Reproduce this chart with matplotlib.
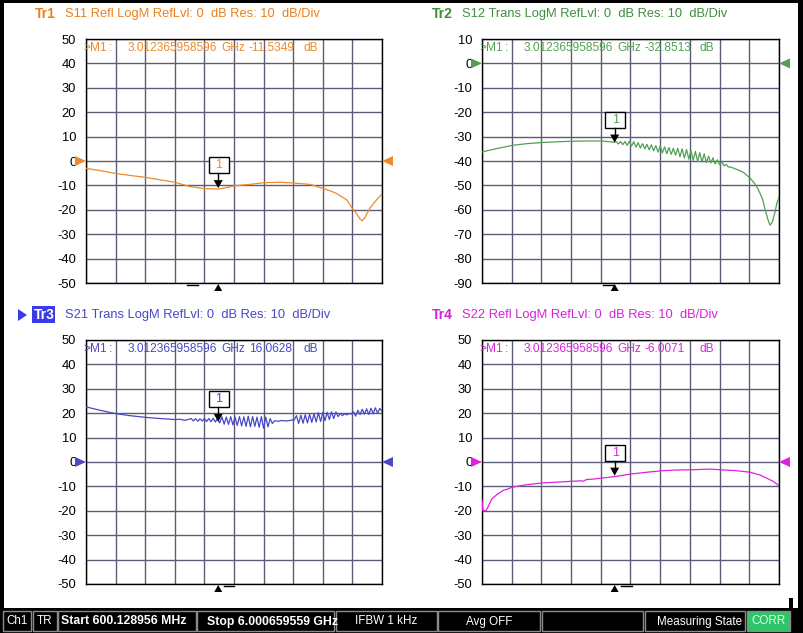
import matplotlib
matplotlib.use('Agg')
import matplotlib.pyplot as plt
from matplotlib.patches import Rectangle, Polygon

plt.rcParams['axes.unicode_minus'] = False
plt.rcParams['font.family'] = ['Liberation Sans', 'DejaVu Sans']

W, H = 804, 633

# ---------------- data ----------------
f_start, f_stop = 0.600128956, 6.000659559   # GHz
marker_f = 3.012365958596

s11_f = [0.60, 0.90, 1.14, 1.40, 1.68, 1.95, 2.22, 2.50, 2.76, 3.01, 3.15, 3.30, 3.59, 3.84, 4.14, 4.38,
         4.69, 4.92, 5.05, 5.17, 5.27, 5.36, 5.46, 5.55, 5.60, 5.64, 5.68, 5.72, 5.78, 5.86, 5.93, 6.00]
s11_db = [-3.0, -4.1, -5.1, -5.9, -6.7, -7.7, -8.7, -10.5, -11.3, -11.5, -11.0, -10.2, -9.6, -8.9, -8.7, -9.0,
          -9.6, -11.2, -12.2, -13.3, -14.7, -16.0, -19.4, -22.0, -23.8, -24.5, -23.5, -21.8, -19.4, -17.0, -15.2, -13.5]

s12_f = [0.60, 0.87, 1.15, 1.41, 1.70, 2.00, 2.23, 2.50, 2.78, 3.00,
         3.04, 3.08, 3.12, 3.16, 3.20, 3.24, 3.28, 3.32, 3.36, 3.40, 3.44, 3.48, 3.52, 3.56, 3.60,
         3.64, 3.68, 3.72, 3.76, 3.80, 3.84, 3.88, 3.92, 3.96, 4.00, 4.04, 4.08, 4.12, 4.16, 4.20,
         4.24, 4.28, 4.32, 4.36, 4.40, 4.44, 4.48, 4.52, 4.56, 4.60, 4.64, 4.68, 4.72, 4.76, 4.80,
         4.84, 4.88, 4.92, 4.96, 5.00, 5.04, 5.08, 5.12,
         5.17, 5.26, 5.35, 5.48, 5.56, 5.62, 5.70, 5.745, 5.80, 5.836, 5.88, 5.927, 5.96, 6.00]
s12_db = [-36.3, -34.9, -33.6, -32.9, -32.4, -32.1, -31.9, -31.8, -31.8, -32.3,
          -32.05, -33.0, -32.0, -33.3, -32.0, -33.6, -31.9, -33.9, -32.1, -34.3, -32.5, -34.7, -32.9, -35.0, -33.2,
          -35.4, -33.4, -35.8, -33.7, -36.3, -33.9, -36.7, -34.2, -37.0, -34.5, -37.3, -34.8, -37.6, -34.8, -38.3,
          -35.0, -38.8, -35.3, -39.2, -35.7, -39.7, -36.1, -40.0, -36.6, -40.4, -37.1, -40.6, -38.0, -40.8, -38.7,
          -41.2, -39.5, -41.5, -40.4, -42.0, -41.4, -42.5, -42.45,
          -42.9, -43.7, -44.6, -47.1, -49.3, -51.5, -55.5, -59.6, -64.0, -66.3, -65.0, -61.0, -57.5, -54.7]

s21_f = [0.60, 0.80, 1.00, 1.15, 1.40, 1.68, 1.90, 2.10, 2.22, 2.32, 2.40, 2.48,
         2.52, 2.56, 2.60, 2.64, 2.68, 2.72, 2.76, 2.80, 2.84, 2.88, 2.92, 2.96, 3.00,
         3.04, 3.08, 3.12, 3.16, 3.20, 3.24, 3.28, 3.32, 3.36, 3.40, 3.44, 3.48, 3.52, 3.56, 3.60,
         3.64, 3.68, 3.72, 3.76, 3.80, 3.84, 3.88, 3.92, 3.96, 4.00,
         4.04, 4.10, 4.18, 4.26, 4.34, 4.40,
         4.44, 4.48, 4.52, 4.56, 4.60, 4.64, 4.68, 4.72, 4.76, 4.80, 4.84, 4.88, 4.92, 4.96, 5.00,
         5.04, 5.08, 5.12, 5.16, 5.20, 5.24, 5.28, 5.32, 5.36, 5.40, 5.44, 5.48, 5.52, 5.56, 5.60,
         5.64, 5.68, 5.72, 5.76, 5.80, 5.84, 5.88, 5.92, 5.96, 6.00]
s21_db = [22.6, 21.5, 20.5, 19.8, 19.0, 18.3, 17.9, 17.6, 17.4, 17.5, 17.1, 17.5,
          17.8, 16.8, 17.8, 16.7, 17.7, 16.8, 17.8, 16.6, 17.8, 16.5, 17.9, 16.4, 17.8,
          16.0, 18.5, 15.5, 18.4, 15.4, 18.6, 15.2, 18.4, 15.0, 18.6, 14.8, 18.5, 14.6, 18.8, 14.4,
          18.6, 14.6, 18.4, 14.2, 18.6, 13.8, 18.4, 14.4, 17.8, 15.8,
          16.9, 16.7, 17.0, 16.8, 17.1, 17.3,
          19.0, 15.8, 19.2, 15.9, 19.4, 16.0, 19.6, 16.2, 19.8, 16.4, 20.2, 16.6, 20.3, 16.9, 20.4,
          17.4, 20.6, 17.8, 20.5, 18.6, 19.9, 19.0, 19.8, 19.3, 19.9, 19.6, 20.6, 18.8, 21.2, 19.4,
          21.6, 19.6, 21.8, 19.5, 22.0, 19.8, 22.2, 20.0, 22.0, 20.8]

s22_f = [0.600, 0.615, 0.673, 0.715, 0.776, 0.867, 0.988, 1.05, 1.151, 1.413, 1.697, 2.00, 2.231, 2.40,
         2.44, 2.50, 2.624, 2.776, 3.012, 3.316, 3.60, 3.86, 4.10, 4.406, 4.745, 4.94, 5.20, 5.478,
         5.65, 5.776, 5.90, 6.00]
s22_db = [-15.5, -19.9, -20.0, -18.2, -15.2, -13.4, -11.6, -11.2, -10.3, -9.3, -8.6, -8.2, -7.9, -7.7,
          -7.9, -7.2, -7.0, -6.6, -6.0, -4.9, -4.2, -3.6, -3.3, -3.2, -2.9, -3.2, -3.5, -4.2,
          -5.3, -6.6, -8.0, -9.7]

marker_vals = ['-11.5349', '-32.8513', '16.0628', '-6.0071']
marker_num = [-11.5349, -32.8513, 16.0628, -6.0071]
y_ranges = [(-50, 50), (-90, 10), (-50, 50), (-50, 50)]
headers = ['S11 Refl LogM RefLvl: 0  dB Res: 10  dB/Div',
           'S12 Trans LogM RefLvl: 0  dB Res: 10  dB/Div',
           'S21 Trans LogM RefLvl: 0  dB Res: 10  dB/Div',
           'S22 Refl LogM RefLvl: 0  dB Res: 10  dB/Div']
trace_names = ['Tr1', 'Tr2', 'Tr3', 'Tr4']
status_texts = ['Ch1', 'TR', 'Start 600.128956 MHz', 'Stop 6.000659559 GHz', 'IFBW 1 kHz',
                'Avg OFF', '', 'Measuring State', 'CORR']

# ---------------- styling / layout ----------------
colors = ['#EE8A2A', '#52A052', '#4848C8', '#E020E0']
head_colors = ['#E8801E', '#3E8E3E', '#4848C8', '#D820D8']
grid_c = '#5C5C78'
boxes = [(86, 39, 382, 283), (482, 39, 779, 283), (86, 340, 382, 584), (482, 340, 779, 584)]
head_y = [14, 14, 315, 315]
head_x = [(35, 65), (432, 462), (35, 65), (432, 462)]
readout_y = [48, 48, 349, 349]
dash_off = [(-31, -20), (-12, -2), (6, 16), (6, 17)]

fig = plt.figure(figsize=(W / 100, H / 100), dpi=100, facecolor='black')
bg = fig.add_axes([0, 0, 1, 1], zorder=0)
bg.set_xlim(0, W); bg.set_ylim(H, 0); bg.axis('off')
bg.add_patch(Rectangle((4, 3), 794, 605, fc='white', ec='none'))

ov = fig.add_axes([0, 0, 1, 1], zorder=5)
ov.set_xlim(0, W); ov.set_ylim(H, 0); ov.axis('off')

series = [(s11_f, s11_db), (s12_f, s12_db), (s21_f, s21_db), (s22_f, s22_db)]


def to_px(ax, x, y):
    dx, dy = ax.transData.transform((x, y))
    return dx, H - dy


for i in range(4):
    x0, y0, x1, y1 = boxes[i]
    ax = fig.add_axes([x0 / W, 1 - y1 / H, (x1 - x0) / W, (y1 - y0) / H], zorder=2)
    ax.set_facecolor('white')
    lo, hi = y_ranges[i]
    ax.set_xlim(f_start, f_stop)
    ax.set_ylim(lo, hi)
    ax.set_xticks([f_start + k * (f_stop - f_start) / 10 for k in range(11)])
    ax.set_xticklabels([])
    ax.set_yticks(list(range(lo, hi + 1, 10)))
    ax.set_yticklabels([str(v) for v in range(lo, hi + 1, 10)], fontsize=9.3)
    ax.tick_params(length=0, pad=7)
    ax.grid(True, color=grid_c, lw=1.0)
    for s in ax.spines.values():
        s.set_color('black'); s.set_linewidth(1.0)
    f, d = series[i]
    ax.plot(f, d, color=colors[i], lw=0.9, zorder=3)

    c = colors[i]
    # header
    if i == 2:
        bg.add_patch(Polygon([(18, 309), (18, 321), (27, 315)], fc='#3A3AE8', ec='none'))
        bg.add_patch(Rectangle((32, 306), 23, 17, fc='#3A3AE8', ec='none'))
        bg.text(34, head_y[i], 'Tr3', color='white', fontsize=10, fontweight='bold', va='center', ha='left')
    else:
        bg.text(head_x[i][0], head_y[i], trace_names[i], color=head_colors[i], fontsize=10,
                fontweight='bold', va='center', ha='left')
    bg.text(head_x[i][1], head_y[i], headers[i], color=head_colors[i], fontsize=9.3, va='center', ha='left')

    # marker readout
    ry = readout_y[i]
    for txt, dx in [('>M1', -3), (':', 23), ('3.012365958596', 42), ('GHz', 135),
                    (marker_vals[i], 163), ('dB', 218)]:
        ov.text(x0 + dx, ry, txt, color=c, fontsize=8.6, va='center', ha='left')

    # reference level arrows at 0 dB
    _, ry0 = to_px(ax, f_start, 0)
    ov.add_patch(Polygon([(x0 - 11, ry0 - 5), (x0 - 11, ry0 + 5), (x0, ry0)], fc=c, ec='none'))
    ov.add_patch(Polygon([(x1 + 11, ry0 - 5), (x1 + 11, ry0 + 5), (x1, ry0)], fc=c, ec='none'))

    # marker 1
    px, py = to_px(ax, marker_f, marker_num[i])
    tip = py - 1
    ov.add_patch(Polygon([(px - 4.5, tip - 8), (px + 4.5, tip - 8), (px, tip)], fc='black', ec='none'))
    ov.plot([px, px], [tip - 8, tip - 15], color='black', lw=1)
    ov.add_patch(Rectangle((px - 9.5, tip - 31), 20, 16, fc='white', ec='black', lw=1))
    ov.text(px + 0.5, tip - 23, '1', color=c, fontsize=9, ha='center', va='center')

    # stimulus marker below axis
    ov.add_patch(Polygon([(px - 4, y1 + 8), (px + 4, y1 + 8), (px, y1 + 1)], fc='black', ec='none'))
    ov.plot([px + dash_off[i][0], px + dash_off[i][1]], [y1 + 1.5, y1 + 1.5], color='black', lw=1)

# ---------------- status bar ----------------
cells = [(3, 31), (33, 57), (58, 196), (197, 334), (336, 437), (438, 540), (542, 643), (645, 745), (747, 790)]
for k, (a, b) in enumerate(cells):
    fc = '#2FC46A' if k == 8 else 'black'
    bg.add_patch(Rectangle((a, 611), b - a, 20, fc=fc, ec='#8A8A8A', lw=1))
    t = status_texts[k]
    if not t:
        continue
    if k in (2, 3):
        bg.text(a + (3 if k == 2 else 10), 621.5, t, color='white', fontsize=8.8, fontweight='bold',
                va='center', ha='left')
    elif k == 7:
        bg.text(b - 3, 621.5, t, color='white', fontsize=8.4, va='center', ha='right')
    elif k == 8:
        bg.text((a + b) / 2, 621.5, t, color='#D8FFE0', fontsize=8.4, va='center', ha='center')
    else:
        bg.text((a + b) / 2, 621.5, t, color='white', fontsize=8.4, va='center', ha='center')
bg.add_patch(Rectangle((789, 598), 4, 10, fc='black', ec='none'))

fig.savefig('out.png', dpi=100, facecolor='black')
